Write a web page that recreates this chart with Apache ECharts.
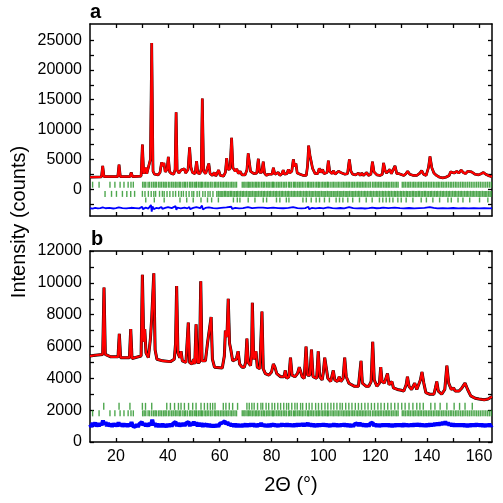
<!DOCTYPE html>
<html><head><meta charset="utf-8">
<script src="https://cdn.jsdelivr.net/npm/echarts@6/dist/echarts.min.js"></script>
<style>html,body{margin:0;padding:0;background:#fff}#c{width:503px;height:503px}</style>
</head><body><div id="c"></div>
<script>
// ---------- DATA ----------
const X_TICKS = [20,30,40,50,60,70,80,90,100,110,120,130,140,150,160];
const X_LABELS = [20,40,60,80,100,120,140,160];
const YA_TICKS = [-2500,0,2500,5000,7500,10000,12500,15000,17500,20000,22500,25000];
const YA_LABELS = [0,5000,10000,15000,20000,25000];
const YB_TICKS = [0,1000,2000,3000,4000,5000,6000,7000,8000,9000,10000,11000,12000];
const YB_LABELS = [0,2000,4000,6000,8000,10000,12000];

// Panel a: profile (2theta, counts)
const A_PROFILE = [[10,2000],[14.4,2050],[14.9,3900],[15.4,2100],[20.7,2100],[21.2,4100],[21.7,2100],[25.4,2100],[25.9,2800],[26.4,2100],[29.7,2200],[30.2,7500],[30.7,2600],[31.1,2700],[31.5,3600],[31.9,2600],[32.6,2500],[33.3,5000],[33.8,24500],[34.3,3000],[34.9,2500],[35.5,2400],[36.3,2400],[37.0,2800],[37.6,4500],[38.0,3900],[38.5,4400],[39.0,2900],[39.7,3300],[40.2,5400],[40.7,2900],[41.5,2600],[42.3,2500],[42.8,3300],[43.2,12900],[43.6,3200],[44.3,2700],[45.1,3200],[45.6,2900],[46.4,3400],[46.9,2700],[47.8,3300],[48.4,7000],[48.9,3700],[49.5,2800],[50.5,2600],[51.1,4700],[51.6,2700],[52.4,2600],[52.9,3400],[53.3,15200],[53.8,3000],[54.6,2600],[55.3,2700],[55.8,4300],[56.3,2600],[57.2,2300],[57.9,2800],[58.5,2200],[59.6,3200],[60.2,2300],[61.5,2200],[62.2,2800],[62.7,5200],[63.2,3300],[64.0,3400],[64.6,8600],[65.1,3600],[66.0,3000],[66.6,3400],[67.2,2600],[67.9,3000],[68.6,2400],[69.8,2400],[70.5,3200],[71.0,6000],[71.4,5700],[71.9,3000],[72.6,3200],[73.2,2600],[74.3,2700],[74.9,5100],[75.4,2800],[76.2,2800],[76.8,4600],[77.3,2700],[78.0,2300],[78.8,2500],[79.5,2200],[80.2,2500],[80.7,3600],[81.3,2500],[82.0,2400],[82.6,2800],[83.2,2300],[84.0,2600],[84.5,3200],[85.0,2500],[85.9,2600],[86.5,3300],[87.0,2700],[87.8,3000],[88.4,5000],[88.9,3800],[89.4,4300],[89.9,2700],[91.0,2500],[91.6,2700],[92.3,2300],[93.4,2300],[93.9,4000],[94.3,7300],[94.8,5700],[95.3,5400],[95.8,3500],[96.3,3700],[96.8,2600],[97.8,2600],[98.4,3500],[99.0,2800],[99.7,3300],[100.2,2600],[101.4,2800],[101.9,4800],[102.4,3000],[103.3,2600],[103.9,3100],[104.5,2500],[105.2,2600],[105.8,3000],[106.4,2700],[107.1,2700],[107.7,3000],[108.3,2500],[109.3,2600],[110.0,5000],[110.6,3000],[111.3,2500],[112.4,2400],[113.5,2700],[114.2,2300],[114.8,2700],[115.4,2300],[116.0,2400],[116.7,2800],[117.3,2300],[118.3,2500],[118.9,4600],[119.5,2900],[120.0,3200],[120.6,2400],[121.2,2600],[121.8,2300],[122.7,2500],[123.2,4400],[123.8,3100],[124.3,2700],[125.0,2600],[125.6,3300],[126.2,2600],[126.9,2700],[127.6,3900],[128.3,2600],[129.2,2600],[129.9,2300],[131.0,2300],[131.8,2600],[132.5,3000],[133.3,2500],[134.7,2300],[136.0,2300],[137.2,2700],[137.9,3100],[138.6,2500],[139.6,2300],[140.5,3600],[141.1,5500],[141.8,3600],[142.6,2700],[143.6,2300],[144.8,2000],[146.0,1900],[147.2,2000],[148.5,2300],[149.0,2900],[149.7,2800],[150.4,2700],[151.4,3000],[152.2,2700],[153.1,3200],[153.9,2800],[154.8,2600],[155.6,3000],[156.2,3200],[157.1,2900],[158.5,2500],[159.8,2400],[160.8,2600],[161.7,2800],[162.6,2500],[164,2200],[165,2100]];

const A_DIFF = [[10,-3200],[11,-3280],[12,-3150],[13,-3230],[14,-3170],[14.9,-3050],[15.2,-3350],[16,-3200],[17.5,-3150],[19,-3240],[20,-3170],[21.1,-3050],[21.4,-3320],[22.5,-3180],[24,-3230],[25.8,-3120],[26.1,-3280],[27.5,-3170],[29,-3220],[30.1,-2950],[30.4,-3350],[31.5,-3100],[32.5,-3250],[33.5,-2650],[33.8,-3750],[34.1,-2900],[34.6,-3350],[35.5,-3150],[36.5,-3220],[37.5,-2980],[37.9,-3320],[39,-3150],[40.1,-3000],[40.4,-3320],[41.5,-3180],[43.0,-2850],[43.3,-3450],[43.7,-3100],[45,-3230],[46.4,-3100],[47.5,-3220],[48.3,-2980],[48.6,-3350],[49.8,-3150],[51.0,-3000],[51.3,-3300],[52.5,-3180],[53.2,-2750],[53.5,-3400],[54.5,-3150],[55.8,-3050],[56.1,-3280],[57.5,-3180],[59,-3230],[60.5,-3150],[62.6,-3050],[62.9,-3280],[64.5,-2950],[64.8,-3320],[66,-3150],[67.5,-3220],[69,-3170],[70.9,-3000],[71.2,-3300],[72.5,-3180],[74.8,-3080],[75.1,-3280],[76.7,-3100],[77,-3260],[78.5,-3180],[80.6,-3100],[80.9,-3250],[82.5,-3170],[84.5,-3200],[86.5,-3120],[88.3,-3000],[88.6,-3300],[90,-3170],[91.5,-3230],[93,-3170],[94.2,-2950],[94.5,-3350],[95.5,-3150],[97,-3220],[98.5,-3150],[100,-3220],[101.8,-3070],[102.1,-3270],[103.5,-3170],[105,-3220],[106.5,-3160],[108,-3230],[109.9,-3020],[110.2,-3300],[111.5,-3180],[113,-3230],[114.5,-3170],[116,-3240],[117.5,-3180],[118.8,-3080],[119.1,-3280],[120.5,-3200],[122,-3160],[123.1,-3090],[123.4,-3270],[125,-3180],[127.5,-3100],[128,-3250],[129.5,-3180],[131,-3220],[133,-3160],[135,-3230],[137,-3170],[139,-3150],[141,-3000],[141.3,-3250],[142.5,-3150],[144,-3220],[146,-3180],[148,-3230],[150,-3160],[152,-3220],[154,-3170],[156,-3230],[158,-3180],[160,-3220],[162,-3170],[164,-3230],[165,-3200]];

// Panel b: profile
const B_PROFILE = [[10,5400],[12,5450],[14.9,5500],[15.4,9700],[15.9,5500],[18,5350],[20.8,5350],[21.3,6800],[21.8,5300],[25.2,5300],[25.7,7100],[26.2,5250],[29.7,5400],[30.2,10500],[30.7,6300],[31.1,7100],[31.6,5600],[32.5,5300],[33.3,6500],[33.8,7800],[34.2,7700],[34.6,10600],[35.1,5800],[35.8,5200],[38,5100],[41,5050],[42.5,5200],[43.0,6200],[43.4,9800],[43.9,5600],[44.6,5300],[45.1,5700],[45.6,5100],[47.0,5000],[47.9,7500],[48.4,5000],[49.3,4900],[49.9,5200],[50.4,4900],[50.9,7400],[51.4,5000],[52.2,5000],[52.7,10100],[53.2,5100],[54.5,5100],[55.3,6200],[55.8,6300],[56.7,7850],[57.2,5200],[58,4700],[61,4650],[61.8,5400],[62.2,7000],[62.8,6600],[63.3,9000],[63.8,6200],[64.3,5800],[65.0,5100],[65.6,5000],[66.4,5200],[67.1,5700],[67.7,4900],[68.6,4700],[69.5,4700],[70.0,5000],[70.5,6500],[71.0,5000],[71.9,4800],[72.3,5500],[72.6,8750],[73.1,5200],[73.6,5400],[74.0,5700],[74.5,4700],[75.5,4600],[76.3,8200],[76.8,4600],[77.6,4300],[79.0,4200],[80.0,4400],[80.7,4900],[81.3,4700],[82.0,4300],[83.5,4100],[84.8,4100],[85.3,4500],[85.8,4000],[86.7,4100],[87.3,5300],[87.9,4200],[89.0,4100],[90.0,4300],[90.7,4700],[91.3,4800],[91.8,4100],[92.6,4000],[93.3,6000],[93.9,4200],[94.8,4200],[95.4,5800],[96.0,4100],[97.4,4000],[98.0,5700],[98.6,4100],[99.5,3900],[100.0,4400],[100.5,5300],[101.2,5300],[101.7,4000],[102.8,3800],[103.8,4500],[104.4,3900],[105.4,3800],[106.1,4100],[106.7,3800],[107.6,4000],[108.2,5300],[108.8,4100],[109.8,3700],[110.8,3600],[112.0,3500],[113.5,3500],[114.0,4300],[114.5,5100],[115.0,3700],[116.5,3500],[117.5,3500],[118.4,3800],[119.0,6300],[119.6,3900],[120.6,3500],[121.6,3700],[122.1,4700],[122.6,3800],[123.5,3700],[124.7,4300],[125.3,3600],[126.0,3600],[126.4,3800],[127.0,3400],[128.5,3300],[130.0,3250],[131.0,3200],[131.9,3600],[132.4,4100],[133.0,3500],[134.0,3300],[135.2,3700],[136.0,3300],[137.4,3900],[138.0,4400],[138.7,3700],[139.5,3100],[141.0,3000],[142.6,3000],[143.2,3400],[143.7,3800],[144.3,3200],[145.6,3000],[146.8,3300],[147.6,4800],[148.3,3700],[149.3,3300],[150.2,3400],[150.8,3200],[151.5,3300],[152.3,3200],[153.4,3400],[154.6,3700],[155.6,3300],[156.8,2900],[158.5,2750],[160,2700],[162,2650],[163.5,2700],[164.2,2800],[165,2850]];

const B_DIFF = [[10,1100],[10.5,950],[11,1200],[11.5,1020],[12,1220],[12.5,980],[13,1180],[13.5,1000],[14,1180],[14.5,1050],[15,1350],[15.5,1100],[16,1250],[16.5,1000],[17,1200],[17.5,980],[18,1150],[18.5,960],[19,1170],[19.5,1000],[20,1150],[20.5,980],[21,1230],[21.5,1020],[22,1160],[22.5,970],[23,1150],[23.5,990],[24,1140],[24.5,960],[25,1150],[25.5,1000],[26,1250],[26.5,1000],[27,1120],[27.5,950],[28,1100],[28.5,960],[29,1120],[29.5,1000],[30,1250],[30.5,1050],[31,1180],[31.5,1000],[32,1150],[32.5,980],[33,1200],[33.5,1050],[34,1400],[34.5,1050],[35,1180],[35.5,960],[36,1140],[36.5,950],[37,1120],[37.5,960],[38,1140],[38.5,950],[39,1100],[39.5,940],[40,1120],[40.5,970],[41,1130],[41.5,980],[42,1150],[42.5,1050],[43,1260],[43.5,1000],[44,1200],[44.5,980],[45,1180],[45.5,1000],[46,1200],[46.5,1020],[47,1180],[47.5,1060],[48,1260],[48.5,1000],[49,1200],[49.5,1050],[50,1280],[50.5,1050],[51,1230],[51.5,980],[52,1200],[52.5,1000],[53,1180],[53.5,960],[54,1150],[54.5,980],[55,1150],[55.5,960],[56,1120],[56.5,940],[57,1080],[57.5,940],[58,1080],[58.5,950],[59,1100],[59.5,960],[60,1150],[60.5,1050],[61,1200],[61.5,1100],[62,1300],[62.5,1120],[63,1250],[63.5,1050],[64,1180],[64.5,1000],[65,1150],[65.5,960],[66,1140],[66.5,950],[67,1120],[67.5,960],[68,1100],[68.5,950],[69,1120],[69.5,980],[70,1150],[70.5,960],[71,1140],[71.5,980],[72,1160],[72.5,1000],[73,1150],[73.5,970],[74,1120],[74.5,960],[75,1140],[75.5,1000],[76,1200],[76.5,980],[77,1130],[77.5,960],[78,1100],[78.5,950],[79,1120],[79.5,960],[80,1150],[80.5,1000],[81,1140],[81.5,980],[82,1120],[82.5,960],[83,1130],[83.5,980],[84,1150],[84.5,1000],[85,1140],[85.5,980],[86,1150],[86.5,1000],[87,1130],[87.5,980],[88,1120],[88.5,970],[89,1130],[89.5,990],[90,1150],[90.5,1000],[91,1160],[91.5,1020],[92,1170],[92.5,1000],[93,1180],[93.5,1020],[94,1200],[94.5,1000],[95,1150],[95.5,980],[96,1140],[96.5,960],[97,1120],[97.5,970],[98,1130],[98.5,990],[99,1140],[99.5,1000],[100,1160],[100.5,1000],[101,1130],[101.5,980],[102,1120],[102.5,960],[103,1130],[103.5,990],[104,1150],[104.5,990],[105,1130],[105.5,970],[106,1120],[106.5,980],[107,1140],[107.5,1000],[108,1150],[108.5,990],[109,1130],[109.5,970],[110,1120],[110.5,960],[111,1110],[111.5,970],[112,1120],[112.5,1000],[113,1170],[113.5,1020],[114,1200],[114.5,1020],[115,1150],[115.5,980],[116,1140],[116.5,970],[117,1130],[117.5,980],[118,1150],[118.5,1030],[119,1220],[119.5,1000],[120,1140],[120.5,970],[121,1130],[121.5,960],[122,1120],[122.5,980],[123,1130],[123.5,990],[124,1140],[124.5,980],[125,1130],[125.5,970],[126,1120],[126.5,960],[127,1120],[127.5,970],[128,1130],[128.5,990],[129,1140],[129.5,980],[130,1130],[130.5,970],[131,1150],[131.5,990],[132,1130],[132.5,980],[133,1120],[133.5,990],[134,1140],[134.5,990],[135,1150],[135.5,1000],[136,1160],[136.5,1010],[137,1150],[137.5,990],[138,1130],[138.5,980],[139,1120],[139.5,970],[140,1130],[140.5,990],[141,1150],[141.5,1000],[142,1160],[142.5,1020],[143,1180],[143.5,1040],[144,1200],[144.5,1050],[145,1220],[145.5,1080],[146,1250],[146.5,1100],[147,1280],[147.5,1080],[148,1220],[148.5,1050],[149,1180],[149.5,1000],[150,1150],[150.5,990],[151,1140],[151.5,980],[152,1130],[152.5,990],[153,1140],[153.5,980],[154,1130],[154.5,970],[155,1120],[155.5,960],[156,1120],[156.5,970],[157,1130],[157.5,980],[158,1140],[158.5,990],[159,1150],[159.5,1000],[160,1140],[160.5,990],[161,1130],[161.5,970],[162,1120],[162.5,960],[163,1130],[163.5,980],[164,1140],[164.5,990],[165,1080]];

// Bragg reflection positions (2theta)
const PHASE_MAIN = [11.0,13.5,17.7,19.6,21.6,23.1,24.7,25.8,26.7,30.3,30.9,31.5,32.4,33.0,33.8,34.5,35.1,35.6,36.4,37.0,37.6,38.3,38.9,39.4,40.2,40.8,41.5,42.1,42.8,43.2,43.9,44.5,45.0,45.8,46.4,46.9,47.6,48.4,48.9,49.5,50.2,50.8,51.1,51.8,52.4,52.9,53.3,54.0,54.6,55.2,55.8,56.5,57.1,57.9,58.4,59.0,59.6,60.3,60.9,61.5,62.1,62.7,63.3,64.0,64.6,65.2,65.9,66.5,68.7,69.3,69.8,70.5,71.0,71.4,72.0,72.6,73.2,73.8,74.3,74.9,75.5,76.2,76.8,77.3,78.0,78.6,79.1,79.8,80.4,80.7,81.3,82.0,82.6,83.2,83.8,84.5,85.1,85.7,86.5,87.0,87.6,88.4,88.9,89.4,90.1,90.7,91.3,91.9,92.5,93.2,93.9,94.3,94.9,95.5,96.1,96.8,97.4,98.0,98.4,99.1,99.7,100.3,100.9,101.5,101.9,102.6,103.3,103.9,104.5,105.2,105.8,106.4,107.1,107.7,108.3,108.9,109.5,110.0,110.7,111.3,111.9,112.6,113.2,113.8,114.4,115.0,115.6,116.2,116.8,117.5,118.1,118.9,119.5,120.1,120.7,121.3,121.9,122.5,123.2,123.8,124.4,125.0,125.6,126.3,126.9,127.6,128.2,128.8,130.4,131.0,131.6,132.3,132.9,133.5,134.2,134.8,135.4,136.1,136.7,137.3,137.9,138.6,139.2,139.8,140.5,141.1,141.7,142.4,143.0,143.7,144.3,144.9,145.6,146.2,146.9,147.5,148.2,148.9,149.5,150.2,150.9,151.5,152.2,152.9,153.6,154.2,154.9,155.6,156.3,157.0,157.7,158.4,159.1,159.8,160.5,161.2,161.9,162.6,163.3,164.0,164.7];
const PHASE_A2 = [15.8,18.3,20.2,22.5,24.2,25.7,27.2,30.2,31.2,32.5,33.6,34.6,35.3,36.8,37.9,38.6,39.7,40.8,42.0,43.0,44.2,45.2,46.0,47.1,48.2,49.3,50.0,51.3,52.2,53.5,54.4,55.5,56.3,57.4,58.9,59.5,60.1,60.6,61.2,61.8,62.3,62.9,63.5,64.1,64.6,65.2,65.8,66.4,66.9,67.5,68.1,68.7,69.2,69.8,70.4,71.0,71.6,72.1,72.7,73.3,73.9,74.4,75.0,75.6,76.2,76.8,77.3,77.9,78.5,79.1,79.6,80.2,80.8,81.4,81.9,82.5,83.1,83.7,84.2,84.8,85.4,86.0,86.5,87.1,87.7,88.3,88.8,89.4,90.0,90.6,91.1,91.7,92.3,92.9,93.4,94.0,94.6,95.2,95.7,96.3,96.9,97.5,98.0,98.6,99.2,99.8,100.3,100.9,101.5,102.1,102.6,103.2,103.8,104.4,104.9,105.5,106.1,106.7,107.2,107.8,108.4,109.0,109.5,110.1,110.7,111.3,111.8,112.4,113.0,113.6,114.1,114.7,115.3,115.9,116.4,117.0,117.6,118.2,118.7,119.3,119.9,120.5,121.0,121.6,122.2,122.8,123.3,123.9,124.5,125.1,125.6,126.2,126.8,127.4,127.9,128.5,129.1,129.7,130.2,130.8,131.4,132.0,132.5,133.1,133.7,134.3,134.8,135.4,136.0,136.6,137.1,137.7,138.3,138.9,139.4,140.0,140.6,141.2,141.7,142.3,142.9,143.5,144.0,144.6,145.2,145.8,146.3,146.9,147.5,148.1,148.6,149.2,149.8,150.4,150.9,151.5,152.1,152.7,153.2,153.8,154.4,155.0,155.5,156.1,156.7,157.3,157.8,158.4,159.0,159.6,160.1,160.7,161.3,161.9,162.4,163.0,163.6,164.2,164.7];
const PHASE_A3 = [31.5,34.8,38.6,44.7,47.3,49.8,52.8,55.3,56.9,59.5,65.3,66.8,67.8,71.0,73.6,76.8,78.1,81.9,83.2,85.7,86.7,92.1,93.4,95.3,97.2,98.5,100.4,102.3,104.9,106.2,107.5,109.4,111.3,113.9,116.5,118.8,121.6,122.9,124.2,125.5,126.8,128.7,130.0,131.9,134.5,137.7,139.7,142.2,144.8,148.0,149.3,151.9,153.8,156.4,160.2,163.4];
const PHASE_B2 = [15.3,21.2,25.4,30.2,31.4,33.8,39.6,41.0,42.6,44.1,45.1,46.4,48.0,49.6,50.9,52.8,54.1,55.3,56.4,57.3,58.2,61.4,62.4,63.7,65.0,66.9,70.5,71.4,72.4,73.3,74.6,75.9,76.6,77.9,78.9,80.2,81.2,82.4,83.5,84.7,85.8,86.6,87.8,89.0,89.9,91.2,92.0,93.4,94.5,95.6,97.0,98.1,99.3,100.6,101.7,102.9,104.0,105.2,106.4,107.3,108.6,109.8,111.0,112.3,113.5,114.7,116.0,117.2,118.5,119.7,121.0,122.2,123.5,124.8,126.1,127.5,128.8,130.2,131.5,133.0,134.5,136.0,137.2,138.5,141.4,143.0,145.0,147.6,150.4,152.5,154.6,157.4];

// ---------- CHART ----------
const FONT = '"Liberation Sans", Arial, sans-serif';
const chart = echarts.init(document.getElementById('c'), null, {renderer: 'canvas'});
const plain = v => String(v);

function xAx(grid, pos, labels) {
  return {
    type: 'value', gridIndex: grid, position: pos, min: 10, max: 165,
    axisLine: {show: true, onZero: false, lineStyle: {color: '#000', width: 1.5}},
    axisTick: {show: true, inside: true, length: 4, customValues: X_TICKS, lineStyle: {color: '#000', width: 1.3}},
    axisLabel: labels ? {show: true, customValues: X_LABELS, formatter: plain, color: '#000', fontFamily: FONT, fontSize: 16, margin: 7} : {show: false},
    splitLine: {show: false}
  };
}
function yAx(grid, pos, min, max, ticks, labels) {
  return {
    type: 'value', gridIndex: grid, position: pos, min: min, max: max,
    axisLine: {show: true, onZero: false, lineStyle: {color: '#000', width: 1.5}},
    axisTick: {show: true, inside: true, length: 4, customValues: ticks, lineStyle: {color: '#000', width: 1.3}},
    axisLabel: labels ? {show: true, customValues: labels, formatter: plain, color: '#000', fontFamily: FONT, fontSize: 16, margin: 8} : {show: false},
    splitLine: {show: false}
  };
}
function bragg(xi, yi, pos, level, h, color) {
  return {
    type: 'scatter', xAxisIndex: xi, yAxisIndex: yi, silent: true, animation: false,
    symbol: 'rect', symbolSize: [1.4, h],
    itemStyle: {color: color, opacity: 1},
    data: pos.map(p => [p, level]), z: 2
  };
}
function line(xi, yi, data, color, w, z) {
  return {
    type: 'line', xAxisIndex: xi, yAxisIndex: yi, data: data, showSymbol: false, symbol: 'none',
    silent: true, animation: false, lineStyle: {color: color, width: w}, z: z, clip: true
  };
}

const GREEN = 'rgba(35,145,35,0.8)';
chart.setOption({
  animation: false,
  backgroundColor: '#fff',
  grid: [
    {left: 90, top: 24, width: 402, height: 192},
    {left: 90, top: 251, width: 402, height: 191}
  ],
  xAxis: [xAx(0, 'bottom', false), xAx(0, 'top', false), xAx(1, 'bottom', true), xAx(1, 'top', false)],
  yAxis: [yAx(0, 'left', -4500, 27700, YA_TICKS, YA_LABELS), yAx(0, 'right', -4500, 27700, YA_TICKS, null),
          yAx(1, 'left', 0, 12000, YB_TICKS, YB_LABELS), yAx(1, 'right', 0, 12000, YB_TICKS, null)],
  series: [
    bragg(0, 0, PHASE_MAIN, 750, 6, GREEN),
    bragg(0, 0, PHASE_A2, -790, 6, GREEN),
    bragg(0, 0, PHASE_A3, -1810, 5, GREEN),
    line(0, 0, A_DIFF, '#0000ff', 1.8, 3),
    line(0, 0, A_PROFILE, '#000', 2.7, 4),
    line(0, 0, A_PROFILE, '#ff0000', 2.2, 5),
    bragg(2, 2, PHASE_B2, 2240, 7, GREEN),
    bragg(2, 2, PHASE_MAIN, 1800, 6, GREEN),
    line(2, 2, B_DIFF, '#0000ff', 4, 3),
    line(2, 2, B_PROFILE, '#000', 3.0, 4),
    line(2, 2, B_PROFILE, '#ff0000', 2.2, 5)
  ],
  graphic: [
    {type: 'text', x: 90, y: 2, style: {text: 'a', font: 'bold 20px ' + FONT, fill: '#000'}},
    {type: 'text', x: 91, y: 229, style: {text: 'b', font: 'bold 20px ' + FONT, fill: '#000'}},
    {type: 'text', x: 19, y: 222, rotation: Math.PI / 2,
      style: {text: 'Intensity (counts)', font: '20px ' + FONT, fill: '#000', align: 'center', verticalAlign: 'middle'}},
    {type: 'text', x: 291, y: 485,
      style: {text: '2\u0398 (\u00b0)', font: '20px ' + FONT, fill: '#000', align: 'center', verticalAlign: 'middle'}}
  ]
});
</script></body></html>
